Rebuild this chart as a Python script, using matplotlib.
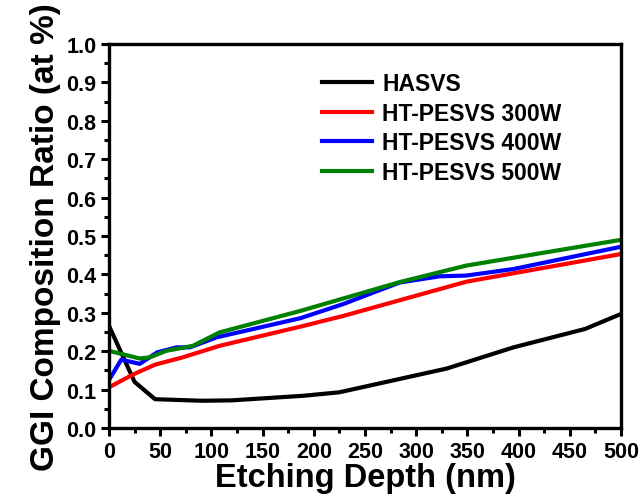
import matplotlib
matplotlib.use("Agg")
import matplotlib.pyplot as plt
from matplotlib.ticker import MultipleLocator

plt.rcParams["font.family"] = ["Liberation Sans", "DejaVu Sans"]
plt.rcParams["font.weight"] = "bold"

# etching depth (nm) and GGI ratio
hasvs_x = [0, 25, 45, 90, 120, 190, 225, 330, 395, 465, 500]
hasvs_y = [0.266, 0.12, 0.075, 0.071, 0.072, 0.084, 0.093, 0.155, 0.21, 0.258, 0.297]

w300_x = [0, 24, 45, 72, 108, 187, 229, 349, 500]
w300_y = [0.106, 0.14, 0.165, 0.184, 0.214, 0.264, 0.292, 0.381, 0.453]

w400_x = [0, 12, 30, 47, 66, 79, 105, 187, 229, 284, 323, 349, 395, 500]
w400_y = [0.125, 0.178, 0.167, 0.197, 0.21, 0.21, 0.236, 0.286, 0.323, 0.379, 0.395, 0.397, 0.414, 0.472]

w500_x = [0, 30, 40, 56, 82, 108, 187, 284, 349, 500]
w500_y = [0.201, 0.181, 0.184, 0.201, 0.214, 0.249, 0.305, 0.38, 0.423, 0.49]

labels = ["HASVS", "HT-PESVS 300W", "HT-PESVS 400W", "HT-PESVS 500W"]
colors = ["black", "red", "blue", "green"]

fig = plt.figure(figsize=(6.43, 5.02), dpi=100)
ax = fig.add_axes([0.1695, 0.1454, 0.7963, 0.765])

series = [(hasvs_x, hasvs_y), (w300_x, w300_y), (w400_x, w400_y), (w500_x, w500_y)]
for (x, y), lab, c in zip(series, labels, colors):
    ax.plot(x, y, color=c, lw=3, label=lab, solid_joinstyle="round")

ax.set_xlim(0, 500)
ax.set_ylim(0, 1.0)
ax.xaxis.set_major_locator(MultipleLocator(50))
ax.xaxis.set_minor_locator(MultipleLocator(25))
ax.yaxis.set_major_locator(MultipleLocator(0.1))
ax.yaxis.set_minor_locator(MultipleLocator(0.05))
ax.yaxis.set_major_formatter(plt.FormatStrFormatter("%.1f"))

for s in ax.spines.values():
    s.set_linewidth(2.4)
ax.tick_params(which="major", direction="out", length=6, width=2.2, labelsize=15.5, pad=3)
ax.tick_params(which="minor", direction="out", length=3.5, width=2.2)
for t in ax.get_xticklabels() + ax.get_yticklabels():
    t.set_fontweight("bold")

ax.set_xlabel("Etching Depth (nm)", fontsize=23.5, fontweight="bold", labelpad=0)
ax.set_ylabel("GGI Composition Ratio (at %)", fontsize=24, fontweight="bold", labelpad=4)

leg = ax.legend(loc="upper left", bbox_to_anchor=(0.375, 0.98), frameon=False,
                prop={"weight": "bold", "size": 16.5}, handlelength=2.2,
                handletextpad=0.45, labelspacing=0.28)

fig.savefig("out.png", dpi=100)
